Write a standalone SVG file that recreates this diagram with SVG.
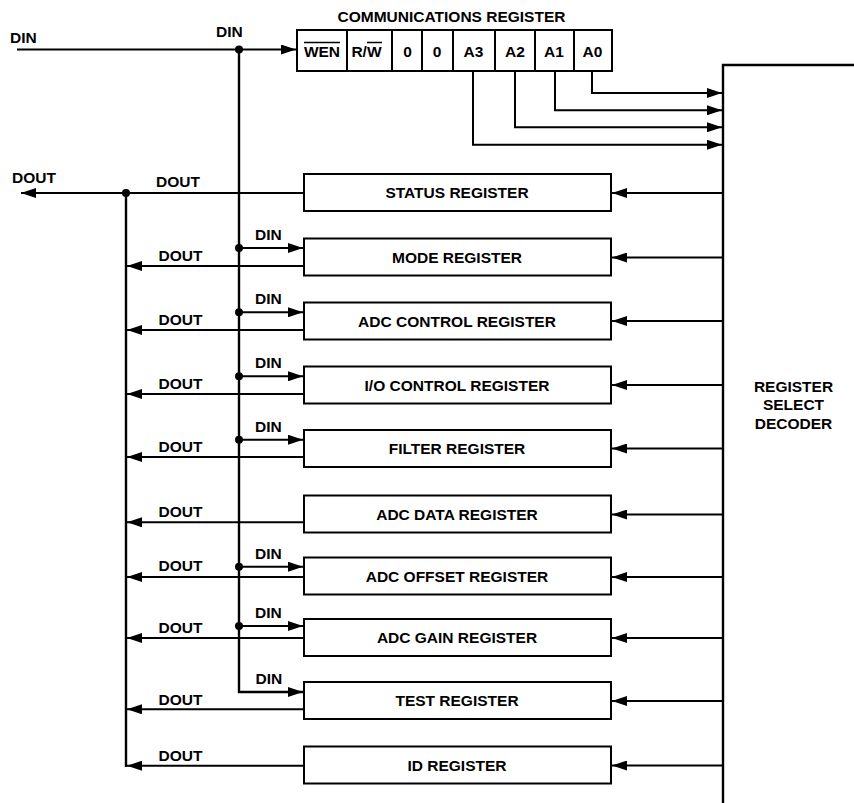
<svg xmlns="http://www.w3.org/2000/svg" width="854" height="803" viewBox="0 0 854 803">
<defs>
<style>
.box{fill:#fff;stroke:#000;stroke-width:2}
.w{stroke:#000;stroke-width:2;fill:none}
.bus{stroke:#000;stroke-width:2.4;fill:none}
.t{font-family:"Liberation Sans",Arial,Helvetica,sans-serif;font-weight:bold;font-size:15.5px;fill:#000}
.c{text-anchor:middle}
.dot{fill:#000}
</style>
<marker id="ah" viewBox="0 0 15 10" refX="15" refY="5" markerWidth="15" markerHeight="10" markerUnits="userSpaceOnUse" orient="auto">
<path d="M0,0 L15,5 L0,10 z" fill="#000"/>
</marker>
</defs>
<rect width="854" height="803" fill="#fff"/>

<g id="connectors">
<!-- DIN input -->
<line class="w" x1="17" y1="49.5" x2="296" y2="49.5" marker-end="url(#ah)"/>
<!-- DIN bus -->
<polyline class="bus" points="239,49.5 239,692 303,692" marker-end="url(#ah)"/>
<circle class="dot" cx="239" cy="49.5" r="4"/>
<!-- DOUT main -->
<line class="w" x1="304" y1="193" x2="21" y2="193" marker-end="url(#ah)"/>
<line class="bus" x1="126" y1="193" x2="126" y2="767"/>
<circle class="dot" cx="126" cy="193" r="4"/>
<!-- address bits to decoder -->
<polyline class="w" points="592,71 592,93 722,93" marker-end="url(#ah)"/>
<polyline class="w" points="555,71 555,110.3 722,110.3" marker-end="url(#ah)"/>
<polyline class="w" points="515,71 515,127.3 722,127.3" marker-end="url(#ah)"/>
<polyline class="w" points="473,71 473,144.7 722,144.7" marker-end="url(#ah)"/>
<!-- decoder select arrows -->
<line class="w" x1="723" y1="193" x2="612" y2="193" marker-end="url(#ah)"/>
<line class="w" x1="723" y1="257.5" x2="612" y2="257.5" marker-end="url(#ah)"/>
<line class="w" x1="723" y1="321" x2="612" y2="321" marker-end="url(#ah)"/>
<line class="w" x1="723" y1="385" x2="612" y2="385" marker-end="url(#ah)"/>
<line class="w" x1="723" y1="448.5" x2="612" y2="448.5" marker-end="url(#ah)"/>
<line class="w" x1="723" y1="514.5" x2="612" y2="514.5" marker-end="url(#ah)"/>
<line class="w" x1="723" y1="577" x2="612" y2="577" marker-end="url(#ah)"/>
<line class="w" x1="723" y1="638" x2="612" y2="638" marker-end="url(#ah)"/>
<line class="w" x1="723" y1="701" x2="612" y2="701" marker-end="url(#ah)"/>
<line class="w" x1="723" y1="765.5" x2="612" y2="765.5" marker-end="url(#ah)"/>
<!-- DIN branches -->
<line class="w" x1="239" y1="248" x2="303" y2="248" marker-end="url(#ah)"/>
<circle class="dot" cx="239" cy="248" r="4"/>
<line class="w" x1="239" y1="312.3" x2="303" y2="312.3" marker-end="url(#ah)"/>
<circle class="dot" cx="239" cy="312.3" r="4"/>
<line class="w" x1="239" y1="376.3" x2="303" y2="376.3" marker-end="url(#ah)"/>
<circle class="dot" cx="239" cy="376.3" r="4"/>
<line class="w" x1="239" y1="439.7" x2="303" y2="439.7" marker-end="url(#ah)"/>
<circle class="dot" cx="239" cy="439.7" r="4"/>
<line class="w" x1="239" y1="566.7" x2="303" y2="566.7" marker-end="url(#ah)"/>
<circle class="dot" cx="239" cy="566.7" r="4"/>
<line class="w" x1="239" y1="626" x2="303" y2="626" marker-end="url(#ah)"/>
<circle class="dot" cx="239" cy="626" r="4"/>
<!-- DOUT branches -->
<line class="w" x1="304" y1="266" x2="127" y2="266" marker-end="url(#ah)"/>
<line class="w" x1="304" y1="330" x2="127" y2="330" marker-end="url(#ah)"/>
<line class="w" x1="304" y1="394" x2="127" y2="394" marker-end="url(#ah)"/>
<line class="w" x1="304" y1="457" x2="127" y2="457" marker-end="url(#ah)"/>
<line class="w" x1="304" y1="522.3" x2="127" y2="522.3" marker-end="url(#ah)"/>
<line class="w" x1="304" y1="577" x2="127" y2="577" marker-end="url(#ah)"/>
<line class="w" x1="304" y1="638" x2="127" y2="638" marker-end="url(#ah)"/>
<line class="w" x1="304" y1="709.3" x2="127" y2="709.3" marker-end="url(#ah)"/>
<line class="w" x1="304" y1="765.7" x2="127" y2="765.7" marker-end="url(#ah)"/>
</g>

<g id="labels">
<text class="t" x="10" y="43">DIN</text>
<text class="t" x="216" y="37">DIN</text>
<text class="t" x="12" y="183">DOUT</text>
<text class="t" x="156" y="187">DOUT</text>
<text class="t" x="255" y="240">DIN</text>
<text class="t" x="158.5" y="261">DOUT</text>
<text class="t" x="255" y="304.3">DIN</text>
<text class="t" x="158.5" y="325">DOUT</text>
<text class="t" x="255" y="368.3">DIN</text>
<text class="t" x="158.5" y="389">DOUT</text>
<text class="t" x="255" y="431.7">DIN</text>
<text class="t" x="158.5" y="452">DOUT</text>
<text class="t" x="158.5" y="517.3">DOUT</text>
<text class="t" x="255" y="558.7">DIN</text>
<text class="t" x="158.5" y="571">DOUT</text>
<text class="t" x="255" y="618">DIN</text>
<text class="t" x="158.5" y="633">DOUT</text>
<text class="t" x="255.5" y="684">DIN</text>
<text class="t" x="158.5" y="704.5">DOUT</text>
<text class="t" x="158.5" y="760.7">DOUT</text>
</g>

<g id="comm-register">
<text class="t c" x="451.5" y="22">COMMUNICATIONS REGISTER</text>
<rect class="box" x="297" y="30" width="315" height="41"/>
<line class="w" x1="347" y1="30" x2="347" y2="71"/>
<line class="w" x1="392" y1="30" x2="392" y2="71"/>
<line class="w" x1="422" y1="30" x2="422" y2="71"/>
<line class="w" x1="453" y1="30" x2="453" y2="71"/>
<line class="w" x1="495" y1="30" x2="495" y2="71"/>
<line class="w" x1="535" y1="30" x2="535" y2="71"/>
<line class="w" x1="574" y1="30" x2="574" y2="71"/>
<text class="t c" x="322" y="56.5">WEN</text>
<line x1="304" y1="42.5" x2="340" y2="42.5" stroke="#000" stroke-width="1.5"/>
<text class="t c" x="366.5" y="56.5">R/W</text>
<line x1="367" y1="42.5" x2="382" y2="42.5" stroke="#000" stroke-width="1.5"/>
<text class="t c" x="407.5" y="56.5">0</text>
<text class="t c" x="437" y="56.5">0</text>
<text class="t c" x="473.5" y="56.5">A3</text>
<text class="t c" x="515" y="56.5">A2</text>
<text class="t c" x="554" y="56.5">A1</text>
<text class="t c" x="592.5" y="56.5">A0</text>
</g>

<g id="decoder">
<polyline class="bus" points="854,65 723,65 723,803"/>
<text class="t c" x="793.5" y="392">REGISTER</text>
<text class="t c" x="793.5" y="410">SELECT</text>
<text class="t c" x="793.5" y="428.5">DECODER</text>
</g>

<g id="status-register"><rect class="box" x="304" y="174" width="307" height="37"/><text class="t c" x="457" y="198">STATUS REGISTER</text></g>
<g id="mode-register"><rect class="box" x="304" y="238.5" width="307" height="37"/><text class="t c" x="457" y="262.5">MODE REGISTER</text></g>
<g id="adc-control-register"><rect class="box" x="304" y="302.5" width="307" height="37"/><text class="t c" x="457" y="326.5">ADC CONTROL REGISTER</text></g>
<g id="io-control-register"><rect class="box" x="304" y="366.5" width="307" height="37"/><text class="t c" x="457" y="390.5">I/O CONTROL REGISTER</text></g>
<g id="filter-register"><rect class="box" x="304" y="430" width="307" height="37"/><text class="t c" x="457" y="454">FILTER REGISTER</text></g>
<g id="adc-data-register"><rect class="box" x="304" y="495.5" width="307" height="37"/><text class="t c" x="457" y="519.5">ADC DATA REGISTER</text></g>
<g id="adc-offset-register"><rect class="box" x="304" y="557.5" width="307" height="37"/><text class="t c" x="457" y="581.5">ADC OFFSET REGISTER</text></g>
<g id="adc-gain-register"><rect class="box" x="304" y="619" width="307" height="37"/><text class="t c" x="457" y="643">ADC GAIN REGISTER</text></g>
<g id="test-register"><rect class="box" x="304" y="682" width="307" height="37"/><text class="t c" x="457" y="706">TEST REGISTER</text></g>
<g id="id-register"><rect class="box" x="304" y="746.5" width="307" height="37"/><text class="t c" x="457" y="770.5">ID REGISTER</text></g>
</svg>
